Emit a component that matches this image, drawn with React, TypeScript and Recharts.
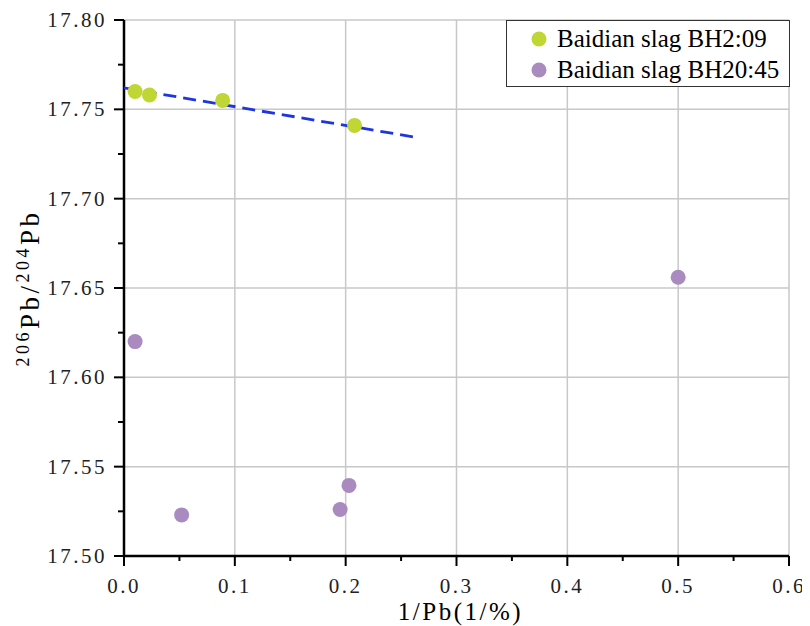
import React from "react";
import {
  ComposedChart,
  Scatter,
  XAxis,
  YAxis,
  CartesianGrid,
  Legend,
} from "recharts";

// ---- data ----
const bh209X = [0.01, 0.023, 0.089, 0.208];
const bh209Y = [17.76, 17.758, 17.755, 17.741];
const bh2045X = [0.01, 0.052, 0.195, 0.203, 0.5];
const bh2045Y = [17.62, 17.523, 17.526, 17.5395, 17.656];
const fitX = [0, 0.262];
const fitY = [17.762, 17.7345];

const xTicks = [0, 0.05, 0.1, 0.15, 0.2, 0.25, 0.3, 0.35, 0.4, 0.45, 0.5, 0.55, 0.6];
const xMajor = [0, 0.1, 0.2, 0.3, 0.4, 0.5, 0.6];
const yTicks = [17.5, 17.525, 17.55, 17.575, 17.6, 17.625, 17.65, 17.675, 17.7, 17.725, 17.75, 17.775, 17.8];
const yMajor = [17.5, 17.55, 17.6, 17.65, 17.7, 17.75, 17.8];

const seriesNames = ["Baidian slag BH2:09", "Baidian slag BH20:45"];
const seriesColors = ["#bfd634", "#aa8bbf"];

const bh209 = bh209X.map((x, i) => ({ x, y: bh209Y[i] }));
const bh2045 = bh2045X.map((x, i) => ({ x, y: bh2045Y[i] }));
const fit = fitX.map((x, i) => ({ x, y: fitY[i] }));

const SERIF = "Liberation Serif";

const XTick = (props: any) => {
  const { x, y, index, payload } = props;
  const major = index % 2 === 0;
  return (
    <g>
      <line x1={x} x2={x} y1={y} y2={y + (major ? 10 : 5)} stroke="#000" strokeWidth={2} />
      {major && (
        <text
          x={x}
          y={y + 37}
          textAnchor="middle"
          fontFamily={SERIF}
          fontSize={21}
          letterSpacing={2.5}
          fill="#222"
        >
          {Number(payload.value).toFixed(1)}
        </text>
      )}
    </g>
  );
};

const YTick = (props: any) => {
  const { x, y, index, payload } = props;
  const major = index % 2 === 0;
  return (
    <g>
      <line x1={x - (major ? 10 : 6)} x2={x} y1={y} y2={y} stroke="#000" strokeWidth={2} />
      {major && (
        <text
          x={x - 17}
          y={y + 7}
          textAnchor="end"
          fontFamily={SERIF}
          fontSize={21}
          letterSpacing={2.5}
          fill="#222"
        >
          {Number(payload.value).toFixed(2)}
        </text>
      )}
    </g>
  );
};

const YTitle = (props: any) => {
  const vb = props.viewBox || {};
  const cx = 31;
  const cy = vb.y + vb.height / 2;
  return (
    <text
      x={cx}
      y={cy}
      transform={`rotate(-90 ${cx} ${cy})`}
      textAnchor="middle"
      fontFamily={SERIF}
      fontSize={27}
      letterSpacing={3.5}
      fill="#000"
    >
      <tspan fontSize={18} dy={-10}>206</tspan>
      <tspan dy={10}>Pb/</tspan>
      <tspan fontSize={18} dy={-10}>204</tspan>
      <tspan dy={10}>Pb</tspan>
    </text>
  );
};

const XTitle = (props: any) => {
  const vb = props.viewBox || {};
  const cx = vb.x + vb.width / 2 + 4;
  return (
    <text
      x={cx}
      y={vb.y + 64}
      textAnchor="middle"
      fontFamily={SERIF}
      fontSize={25}
      letterSpacing={2.5}
      fill="#000"
    >
      1/Pb(1/%)
    </text>
  );
};

const LegendBox = (props: any) => {
  const payload = (props.payload || [])
    .filter((p: any) => p.type !== "none" && seriesNames.includes(p.value))
    .sort((a: any, b: any) => seriesNames.indexOf(a.value) - seriesNames.indexOf(b.value));
  return (
    <div
      style={{
        border: "1.5px solid #333",
        background: "#fff",
        padding: "2px 8px 4px 24px",
        boxSizing: "border-box",
        width: 284,
        height: 67,
      }}
    >
      {payload.map((p: any, i: number) => (
        <div
          key={i}
          style={{
            display: "flex",
            alignItems: "center",
            height: 31,
            fontFamily: SERIF,
            fontSize: 25,
            color: "#000",
            whiteSpace: "nowrap",
          }}
        >
          <svg width={16} height={16} style={{ marginRight: 10 }}>
            <circle cx={8} cy={8} r={7.5} fill={p.color} />
          </svg>
          {p.value}
        </div>
      ))}
    </div>
  );
};

export default function App() {
  return (
    <ComposedChart
      width={802}
      height={618}
      margin={{ top: 12, right: 21, left: 0, bottom: 8 }}
    >
      <CartesianGrid
        stroke="#c8c8c8"
        strokeWidth={1.5}
        verticalValues={xMajor}
        horizontalValues={yMajor}
      />
      <XAxis
        xAxisId={0}
        type="number"
        dataKey="x"
        domain={[0, 0.6]}
        ticks={xTicks}
        interval={0}
        tickSize={0}
        tickMargin={0}
        tickLine={false}
        tick={<XTick />}
        axisLine={{ stroke: "#000", strokeWidth: 2.5 }}
        height={62}
        allowDataOverflow
        label={<XTitle />}
      />
      <XAxis
        xAxisId="top"
        orientation="top"
        type="number"
        domain={[0, 0.6]}
        height={0}
        tick={false}
        tickLine={false}
        axisLine={{ stroke: "#000", strokeWidth: 2 }}
      />
      <YAxis
        yAxisId={0}
        type="number"
        dataKey="y"
        domain={[17.5, 17.8]}
        ticks={yTicks}
        interval={0}
        tickSize={0}
        tickMargin={0}
        tickLine={false}
        tick={<YTick />}
        axisLine={{ stroke: "#000", strokeWidth: 2.5 }}
        width={116}
        allowDataOverflow
        label={<YTitle />}
      />
      <YAxis
        yAxisId="right"
        orientation="right"
        type="number"
        domain={[17.5, 17.8]}
        width={0}
        tick={false}
        tickLine={false}
        axisLine={{ stroke: "#000", strokeWidth: 2 }}
      />
      <Legend
        layout="vertical"
        align="center"
        verticalAlign="middle"
        wrapperStyle={{ top: 12, left: 498, width: 284 }}
        content={<LegendBox />}
      />
      <Scatter
        name="fit"
        data={fit}
        legendType="none"
        line={{ stroke: "#1f35e0", strokeWidth: 2.8, strokeDasharray: "13 7" }}
        shape={() => <g />}
        isAnimationActive={false}
      />
      <Scatter
        name={seriesNames[0]}
        data={bh209}
        fill={seriesColors[0]}
        shape={(p: any) => <circle cx={p.cx} cy={p.cy} r={7.5} fill={seriesColors[0]} />}
        isAnimationActive={false}
      />
      <Scatter
        name={seriesNames[1]}
        data={bh2045}
        fill={seriesColors[1]}
        shape={(p: any) => <circle cx={p.cx} cy={p.cy} r={7.5} fill={seriesColors[1]} />}
        isAnimationActive={false}
      />
    </ComposedChart>
  );
}
